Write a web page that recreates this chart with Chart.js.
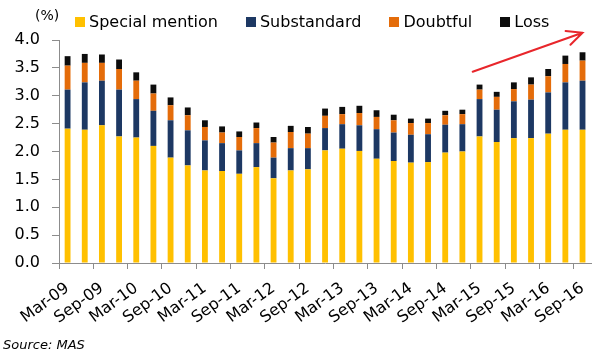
<!DOCTYPE html>
<html>
<head>
<meta charset="utf-8">
<script src="https://cdn.jsdelivr.net/npm/chart.js@4.4.0/dist/chart.umd.min.js"></script>
<style>
  html, body { margin: 0; padding: 0; background: #fff; }
  #wrap { position: relative; width: 604px; height: 360px; font-family: "DejaVu Sans", sans-serif; color: #000; }
  #unit { position: absolute; left: 35px; top: 7px; font-size: 14px; line-height: 17px; }
  #legend { position: absolute; left: 75px; top: 12px; display: flex; font-size: 16px; line-height: 19px; }
  .item { display: flex; align-items: center; margin-right: 28px; }
  .box { width: 10px; height: 10px; margin-right: 4px; }
  #source { position: absolute; left: 3px; top: 337px; font-size: 13px; line-height: 16px; font-style: italic; }
</style>
</head>
<body>
<div id="wrap">
  <canvas id="chart" width="604" height="360"></canvas>
  <div id="unit">(%)</div>
  <div id="legend"></div>
  <div id="source">Source: MAS</div>
</div>
<script>
const quarters = [
  "Mar-09", "Jun-09", "Sep-09", "Dec-09", "Mar-10", "Jun-10", "Sep-10", "Dec-10",
  "Mar-11", "Jun-11", "Sep-11", "Dec-11", "Mar-12", "Jun-12", "Sep-12", "Dec-12",
  "Mar-13", "Jun-13", "Sep-13", "Dec-13", "Mar-14", "Jun-14", "Sep-14", "Dec-14",
  "Mar-15", "Jun-15", "Sep-15", "Dec-15", "Mar-16", "Jun-16", "Sep-16"
];

const specialMention = [2.41, 2.39, 2.47, 2.27, 2.25, 2.10, 1.89, 1.75, 1.66, 1.65, 1.60, 1.72, 1.52, 1.66, 1.68, 2.02,
  2.05, 2.01, 1.87, 1.83, 1.80, 1.81, 1.98, 2.00, 2.27, 2.17, 2.24, 2.24, 2.32, 2.39, 2.39];
const substandard = [0.70, 0.85, 0.80, 0.84, 0.69, 0.63, 0.67, 0.63, 0.54, 0.50, 0.42, 0.43, 0.37, 0.40, 0.38, 0.40,
  0.44, 0.46, 0.53, 0.51, 0.50, 0.50, 0.50, 0.49, 0.67, 0.58, 0.66, 0.69, 0.74, 0.85, 0.88];
const doubtful = [0.43, 0.35, 0.32, 0.37, 0.33, 0.31, 0.27, 0.27, 0.24, 0.19, 0.24, 0.27, 0.27, 0.29, 0.26, 0.22,
  0.18, 0.22, 0.22, 0.22, 0.21, 0.20, 0.17, 0.18, 0.17, 0.23, 0.22, 0.27, 0.29, 0.33, 0.36];
const loss = [0.17, 0.16, 0.15, 0.17, 0.15, 0.16, 0.14, 0.14, 0.12, 0.11, 0.10, 0.10, 0.10, 0.11, 0.12, 0.13,
  0.13, 0.13, 0.12, 0.10, 0.08, 0.08, 0.08, 0.08, 0.09, 0.09, 0.12, 0.13, 0.13, 0.15, 0.15];

const seriesNames = ["Special mention", "Substandard", "Doubtful", "Loss"];
const seriesData = [specialMention, substandard, doubtful, loss];
const seriesColors = ["#ffc000", "#1d3863", "#e46c0a", "#0d0d0d"];

const yTicks = [0, 0.5, 1, 1.5, 2, 2.5, 3, 3.5, 4];

// red trend arrow, given as [category index, value]
const arrowFrom = [23.6, 3.43];
const arrowTo = [30.0, 4.13];

const axisGray = "#8c8c8c";
const font = { family: "DejaVu Sans", size: 16 };

// legend in html
const legendEl = document.getElementById("legend");
seriesNames.forEach((name, i) => {
  const item = document.createElement("div");
  item.className = "item";
  item.innerHTML = '<span class="box" style="background:' + seriesColors[i] + '"></span>' + name;
  legendEl.appendChild(item);
});

const arrowPlugin = {
  id: "trendArrow",
  afterDraw(chart) {
    const { ctx, scales: { x, y } } = chart;
    const x1 = x.getPixelForValue(arrowFrom[0]);
    const y1 = y.getPixelForValue(arrowFrom[1]);
    const x2 = x.getPixelForValue(arrowTo[0]);
    const y2 = y.getPixelForValue(arrowTo[1]);
    const ang = Math.atan2(y2 - y1, x2 - x1);
    const head = 17;
    ctx.save();
    ctx.strokeStyle = "#e8262b";
    ctx.lineWidth = 2;
    ctx.lineCap = "round";
    ctx.beginPath();
    ctx.moveTo(x1, y1);
    ctx.lineTo(x2, y2);
    ctx.moveTo(x2 - head * Math.cos(ang - 0.44), y2 - head * Math.sin(ang - 0.44));
    ctx.lineTo(x2, y2);
    ctx.lineTo(x2 - head * Math.cos(ang + 0.44), y2 - head * Math.sin(ang + 0.44));
    ctx.stroke();
    ctx.restore();
  }
};

new Chart(document.getElementById("chart"), {
  type: "bar",
  data: {
    labels: quarters,
    datasets: seriesNames.map((name, i) => ({
      label: name,
      data: seriesData[i],
      backgroundColor: seriesColors[i],
      borderWidth: 0,
      barPercentage: 0.34,
      categoryPercentage: 1,
    })),
  },
  options: {
    responsive: false,
    animation: false,
    layout: { padding: { top: 40, right: 12, left: 0, bottom: 0 } },
    plugins: {
      legend: { display: false },
      tooltip: { enabled: false },
    },
    scales: {
      x: {
        stacked: true,
        offset: true,
        grid: {
          offset: true,
          drawOnChartArea: false,
          tickLength: 6,
          tickColor: (c) => (c.index % 2 === 0 ? axisGray : "rgba(0,0,0,0)"),
        },
        border: { color: axisGray },
        ticks: {
          autoSkip: false,
          minRotation: 36,
          maxRotation: 36,
          padding: 10,
          color: "#000",
          font: font,
          callback: (v, i) => (i % 2 === 0 ? quarters[i] : ""),
        },
        afterFit: (s) => { s.height = 97; },
      },
      y: {
        stacked: true,
        min: 0,
        max: 4,
        afterBuildTicks: (s) => { s.ticks = yTicks.map((v) => ({ value: v })); },
        grid: { drawOnChartArea: false, tickLength: 7, tickColor: axisGray },
        border: { color: axisGray },
        ticks: {
          padding: 12,
          color: "#000",
          font: font,
          callback: (v) => Number(v).toFixed(1),
        },
        afterFit: (s) => { s.width = 59; },
      },
    },
  },
  plugins: [arrowPlugin],
});
</script>
</body>
</html>
